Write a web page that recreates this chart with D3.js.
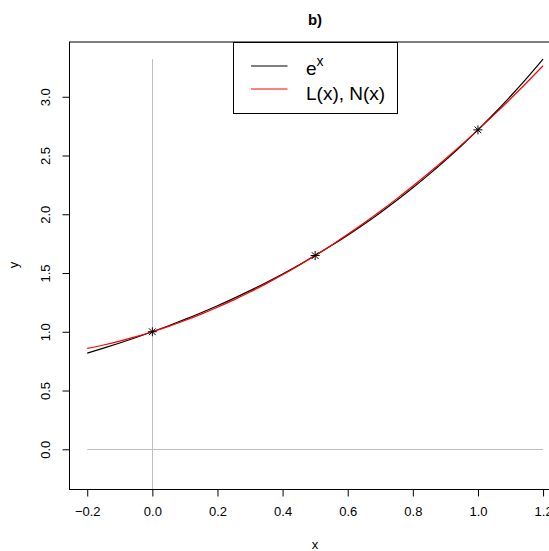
<!DOCTYPE html>
<html><head><meta charset="utf-8">
<script src="https://cdn.jsdelivr.net/npm/d3@7"></script>
<style>body{margin:0;background:#fff}svg{display:block;font-family:"Liberation Sans",Arial,sans-serif}</style>
</head><body><svg id="c" width="549" height="551"></svg>
<script>
const xs = [-0.20,-0.15,-0.10,-0.05,0.00,0.05,0.10,0.15,0.20,0.25,0.30,0.35,0.40,0.45,0.50,0.55,0.60,0.65,0.70,0.75,0.80,0.85,0.90,0.95,1.00,1.05,1.10,1.15,1.20];
const expVals = [0.8187,0.8607,0.9048,0.9512,1.0000,1.0513,1.1052,1.1618,1.2214,1.2840,1.3499,1.4191,1.4918,1.5683,1.6487,1.7333,1.8221,1.9155,2.0138,2.1170,2.2255,2.3396,2.4596,2.5857,2.7183,2.8577,3.0042,3.1582,3.3201];
const interpVals = [0.8583,0.8874,0.9208,0.9583,1.0000,1.0459,1.0961,1.1504,1.2090,1.2718,1.3387,1.4099,1.4853,1.5649,1.6487,1.7367,1.8290,1.9254,2.0260,2.1309,2.2400,2.3532,2.4707,2.5924,2.7183,2.8484,2.9827,3.1212,3.2639];
const nodeX = [0, 0.5, 1];
const nodeY = [1.0000, 1.6487, 2.7183];
const xTicks = [-0.2,0.0,0.2,0.4,0.6,0.8,1.0,1.2];
const yTicks = [0.0,0.5,1.0,1.5,2.0,2.5,3.0];
const legendLabels = ["e", "L(x), N(x)"];
const seriesColors = ["#000000", "#ff0000"];

const svg = d3.select("#c");
const x = d3.scaleLinear().domain([-0.256, 1.256]).range([69, 561.3]);
const y = d3.scaleLinear().domain([-0.338, 3.466]).range([489, 42]);

svg.append("defs").append("clipPath").attr("id","clip")
  .append("rect").attr("x",69).attr("y",42).attr("width",493).attr("height",447);

const g = svg.append("g").attr("clip-path","url(#clip)");
// reference lines
g.append("line").attr("x1",x(-0.2)).attr("x2",x(1.2)).attr("y1",Math.round(y(0))+0.5).attr("y2",Math.round(y(0))+0.5)
  .attr("stroke","#bebebe").attr("stroke-width",1);
g.append("line").attr("x1",Math.round(x(0))+0.5).attr("x2",Math.round(x(0))+0.5).attr("y1",y(3.3201)).attr("y2",y(-0.4))
  .attr("stroke","#bebebe").attr("stroke-width",1);

const line = d3.line().x((d,i)=>x(xs[i])).y(d=>y(d)).curve(d3.curveNatural);
g.append("path").attr("d",line(expVals)).attr("fill","none").attr("stroke",seriesColors[0]).attr("stroke-width",1.2);
g.append("path").attr("d",line(interpVals)).attr("fill","none").attr("stroke",seriesColors[1]).attr("stroke-width",1.2);

// asterisk markers (pch 8)
const s = 4.5;
nodeX.forEach((nx,i)=>{
  const cx = x(nx), cy = y(nodeY[i]);
  const m = g.append("g").attr("stroke","#000").attr("stroke-width",1);
  m.append("line").attr("x1",cx-s).attr("x2",cx+s).attr("y1",cy).attr("y2",cy);
  m.append("line").attr("x1",cx).attr("x2",cx).attr("y1",cy-s).attr("y2",cy+s);
  m.append("line").attr("x1",cx-s*0.75).attr("x2",cx+s*0.75).attr("y1",cy-s*0.75).attr("y2",cy+s*0.75);
  m.append("line").attr("x1",cx-s*0.75).attr("x2",cx+s*0.75).attr("y1",cy+s*0.75).attr("y2",cy-s*0.75);
});

// box
svg.append("rect").attr("x",69.5).attr("y",42).attr("width",493).attr("height",447.5)
  .attr("fill","none").attr("stroke","#000").attr("stroke-width",1);

// axes
const xAxis = d3.axisBottom(x).tickValues(xTicks).tickSize(7).tickPadding(10).tickFormat(d3.format(".1f"));
const xa = svg.append("g").attr("transform","translate(0,489.5)").call(xAxis);
xa.select(".domain").attr("d",`M${x(-0.2)},0H${x(1.2)}`);
xa.selectAll("text").attr("font-size",13).attr("fill","#000").attr("font-family","Liberation Sans, Arial, sans-serif")
  .text(d=>d3.format(".1f")(d).replace("-","\u2212"));
const yAxis = d3.axisLeft(y).tickValues(yTicks).tickSize(7).tickFormat(d3.format(".1f"));
const ya = svg.append("g").attr("transform","translate(69.5,0)").call(yAxis);
ya.select(".domain").attr("d",`M0,${y(0)}V${y(3)}`);
ya.selectAll("text").attr("font-size",13).attr("fill","#000").attr("font-family","Liberation Sans, Arial, sans-serif")
  .attr("transform","rotate(-90,-24,0)").attr("x",-24).attr("y",0).attr("dy","0.35em").attr("text-anchor","middle");

// titles
svg.append("text").attr("x",315).attr("y",25).attr("text-anchor","middle").attr("font-weight","bold").attr("font-size",15).text("b)");
svg.append("text").attr("x",315).attr("y",549).attr("text-anchor","middle").attr("font-size",13).text("x");
svg.append("text").attr("transform","translate(18,265) rotate(-90)").attr("text-anchor","middle").attr("font-size",13).text("y");

// legend
svg.append("rect").attr("x",233.5).attr("y",42.5).attr("width",164).attr("height",71)
  .attr("fill","#fff").attr("stroke","#000").attr("stroke-width",1);
const legY = [66, 89];
const legBase = [75, 100];
legendLabels.forEach((lab,i)=>{
  svg.append("line").attr("x1",251).attr("x2",287.5).attr("y1",legY[i]).attr("y2",legY[i])
    .attr("stroke",seriesColors[i]).attr("stroke-width",1);
  const t = svg.append("text").attr("x",306).attr("y",legBase[i]).attr("font-size",19).text(lab);
  if(i===0) t.append("tspan").attr("font-size",14).attr("dy",-9).text("x");
});
</script></body></html>
